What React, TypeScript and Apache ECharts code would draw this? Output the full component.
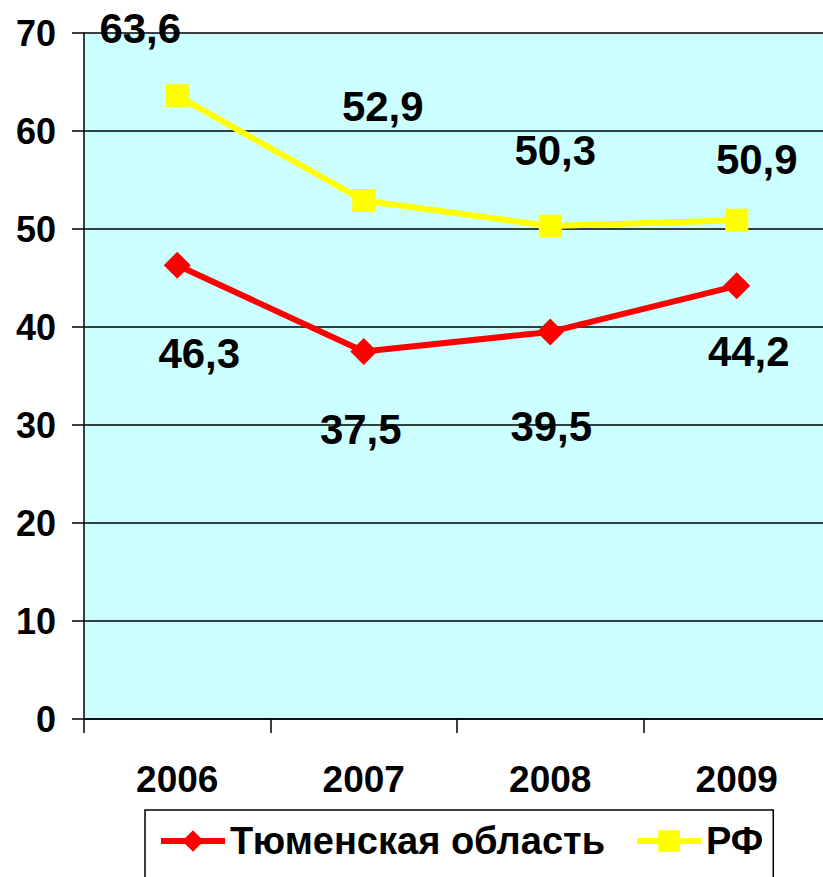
import React, { useEffect, useRef } from "react";
import * as echarts from "echarts";

const categories = ["2006", "2007", "2008", "2009"];
const tyumenValues = [46.3, 37.5, 39.5, 44.2];
const rfValues = [63.6, 52.9, 50.3, 50.9];
const seriesNames = ["Тюменская область", "РФ"];

const FONT = '"Liberation Sans", Arial, sans-serif';

// label offsets (manual placement, as in the original)
const tyumenLabelOffsets = [
  [22, 88],
  [-3, 78],
  [1, 95],
  [12, 66],
];
const rfLabelOffsets = [
  [-37, -67],
  [19, -94],
  [5, -76],
  [20, -61],
];

const fmt = (v: number) => v.toFixed(1).replace(".", ",");

export default function App() {
  const ref = useRef<HTMLDivElement>(null);
  useEffect(() => {
    if (!ref.current) return;
    const chart = echarts.init(ref.current, undefined, { renderer: "svg" });
    const labelBase = {
      show: true,
      position: "inside",
      color: "#000",
      fontSize: 42,
      fontWeight: "bold",
      fontFamily: FONT,
      formatter: (p: any) => fmt(p.value),
    };
    chart.setOption({
      animation: false,
      backgroundColor: "#ffffff",
      grid: {
        left: 84,
        top: 33,
        bottom: 158,
        right: 10,
        show: true,
        backgroundColor: "#CCFFFF",
        borderWidth: 0,
      },
      legend: {
        show: true,
        left: 145,
        top: 810,
        orient: "horizontal",
        borderColor: "#000",
        borderWidth: 1.5,
        padding: [12, 10, 40, 13],
        itemWidth: 64,
        itemHeight: 27,
        itemGap: 29,
        lineStyle: { width: 6 },
        textStyle: {
          fontSize: 38,
          fontWeight: "bold",
          fontFamily: FONT,
          color: "#000",
        },
        data: seriesNames,
      },
      xAxis: {
        type: "category",
        data: categories,
        boundaryGap: true,
        axisLine: { show: true, lineStyle: { color: "#000", width: 1.5 } },
        axisTick: {
          show: true,
          alignWithLabel: false,
          length: 14,
          lineStyle: { color: "#000", width: 1.5 },
        },
        axisLabel: {
          color: "#000",
          fontSize: 37,
          fontWeight: "bold",
          fontFamily: FONT,
          margin: 42,
        },
        splitLine: { show: false },
      },
      yAxis: {
        type: "value",
        min: 0,
        max: 70,
        interval: 10,
        axisLine: { show: true, lineStyle: { color: "#000", width: 1.5 } },
        axisTick: {
          show: true,
          length: 12,
          lineStyle: { color: "#000", width: 1.5 },
        },
        axisLabel: {
          color: "#000",
          fontSize: 36,
          fontWeight: "bold",
          fontFamily: FONT,
          margin: 28,
        },
        splitLine: { show: true, lineStyle: { color: "#000", width: 1.5 } },
      },
      series: [
        {
          name: seriesNames[0],
          type: "line",
          data: tyumenValues.map((v, i) => ({
            value: v,
            label: { offset: tyumenLabelOffsets[i] },
          })),
          symbol: "diamond",
          symbolSize: 27,
          lineStyle: { color: "#FF0000", width: 6 },
          itemStyle: { color: "#FF0000" },
          label: labelBase,
          z: 3,
        },
        {
          name: seriesNames[1],
          type: "line",
          data: rfValues.map((v, i) => ({
            value: v,
            label: { offset: rfLabelOffsets[i] },
          })),
          symbol: "rect",
          symbolSize: 23,
          lineStyle: { color: "#FFFF00", width: 6 },
          itemStyle: { color: "#FFFF00" },
          label: labelBase,
          z: 3,
        },
      ],
    });
    return () => chart.dispose();
  }, []);
  return (
    <div
      ref={ref}
      style={{ position: "fixed", left: 0, top: 0, width: 840, height: 877 }}
    />
  );
}
